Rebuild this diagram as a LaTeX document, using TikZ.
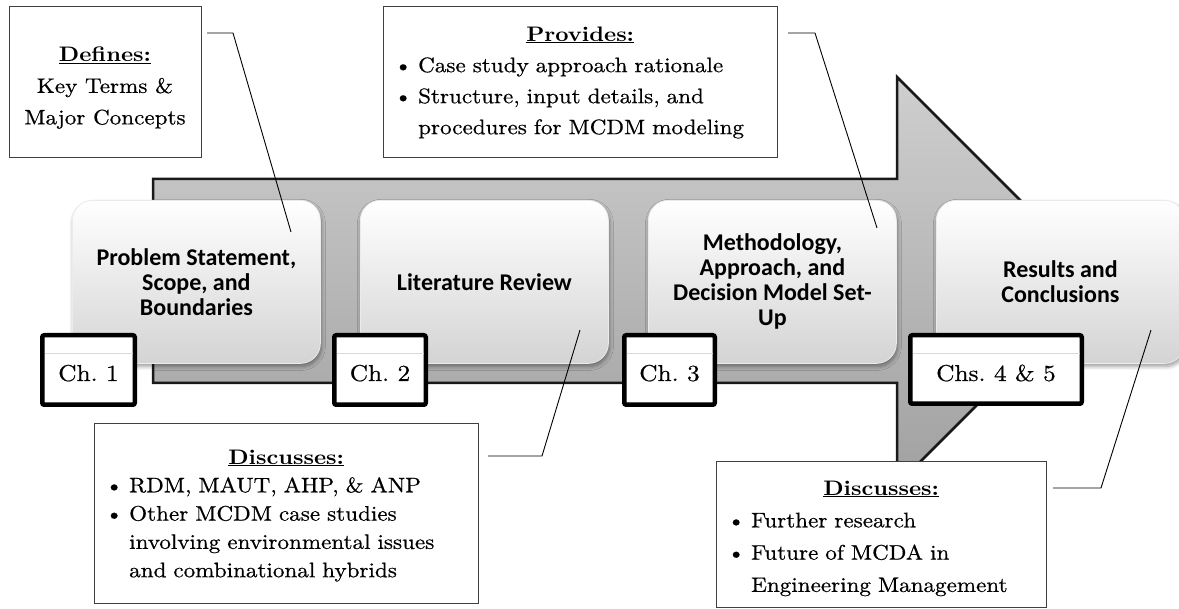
\documentclass[tikz,border=0pt]{standalone}
\usepackage{fontspec}
\setmainfont{lmroman10-regular.otf}[
  BoldFont=lmroman10-bold.otf,
  FakeStretch=1.1,
  UprightFeatures={FakeBold=0.6}]
\newfontfamily\stagefont{Carlito}
\usetikzlibrary{shadows.blur}
\frenchspacing
% bullet and hanging indent used inside the note boxes
\newcommand\notebullet{\makebox[35pt][l]{\hspace{11pt}\textbullet}}
\newcommand\noteindent{\hspace*{35pt}}
\newcommand\notehead[1]{\makebox[\hsize][c]{\underline{\textbf{#1}}}}
\begin{document}
\begin{tikzpicture}[x=1pt,y=-1pt,
  flow/.style={draw=black!90, line width=2.5pt, line join=miter,
    top color=black!19, bottom color=black!37},
  stage/.style={rounded corners=20pt, top color=white, bottom color=black!17,
    draw=black!8, line width=0.8pt, minimum width=248pt, minimum height=163pt,
    anchor=north west, inner sep=0pt, align=center,
    font=\stagefont\bfseries\fontsize{24}{25}\selectfont,
    blur shadow={shadow xshift=1pt, shadow yshift=-3pt, shadow blur radius=4pt,
      shadow blur steps=6, shadow opacity=40}},
  chapbox/.style={draw=black, line width=4.5pt, fill=white, rounded corners=2pt,
    inner sep=0pt},
  chaprule/.style={draw=black!15, line width=0.8pt},
  chaptext/.style={anchor=base, inner sep=0pt, font=\fontsize{23}{30}\selectfont},
  notebox/.style={draw=black!75, line width=1.2pt, fill=white, anchor=north west,
    inner sep=0pt},
  notetext/.style={anchor=north west, inner sep=0pt, align=left,
    font=\fontsize{21}{#1}\selectfont},
  leader/.style={draw=black, line width=0.9pt},
]
\useasboundingbox (0,0) rectangle (1179,609);

% the process arrow behind the stages
\draw[flow] (153,179) -- (897,179) -- (897,77) -- (1101,281) -- (897,485)
  -- (897,383) -- (153,383) -- cycle;

% chapter stages
\node[stage] (s1) at (72,200) {Problem Statement,\\Scope, and\\Boundaries};
\node[stage] (s2) at (360,200) {Literature Review};
\node[stage] (s3) at (648,200) {Methodology,\\Approach, and\\Decision Model Set-\\Up};
\node[stage] (s4) at (936,200) {Results and\\Conclusions};

% leader lines from the notes into the stages
\coordinate (k1s) at (207,33);  \coordinate (k1b) at (233,33);  \coordinate (k1e) at (291,232);
\coordinate (k2s) at (788,33);  \coordinate (k2b) at (815,33);  \coordinate (k2e) at (877,228);
\coordinate (k3s) at (488,456); \coordinate (k3b) at (542,456); \coordinate (k3e) at (580,330);
\coordinate (k4s) at (1053,488);\coordinate (k4b) at (1101,488);\coordinate (k4e) at (1151,330);
\draw[leader] (k1s) -- (k1b) -- (k1e);
\draw[leader] (k2s) -- (k2b) -- (k2e);
\draw[leader] (k3s) -- (k3b) -- (k3e);
\draw[leader] (k4s) -- (k4b) -- (k4e);

% chapter tags
\node[chapbox, minimum width=92.5pt, minimum height=69.5pt] (c1) at (88.5,370) {};
\node[chapbox, minimum width=91.5pt, minimum height=69.5pt] (c2) at (380,370) {};
\node[chapbox, minimum width=90.5pt, minimum height=69.5pt] (c3) at (669.5,370) {};
\node[chapbox, minimum width=171.5pt, minimum height=68.5pt] (c4) at (996,369.5) {};
\foreach \c in {c1,c2,c3,c4}{
  \draw[chaprule] ([xshift=4.5pt,yshift=-20pt]\c.north west) -- ([xshift=-4.5pt,yshift=-20pt]\c.north east);
}
\node[chaptext] (t1) at (88.5,381) {Ch. 1};
\node[chaptext] (t2) at (380,381) {Ch. 2};
\node[chaptext] (t3) at (669.5,381) {Ch. 3};
\node[chaptext] (t4) at (996,381) {Chs. 4 \& 5};

% notes
\node[notebox, minimum width=192pt, minimum height=151pt] (defbox) at (9,6) {};
\node[anchor=north, inner sep=0pt, align=center, font=\fontsize{21}{31.5}\selectfont]
  (deftxt) at (105,46.5) {\underline{\textbf{Defines:}}\\Key Terms \&\\Major Concepts};

\node[notebox, minimum width=394pt, minimum height=151pt] (provbox) at (383,6) {};
\node[notetext=31, text width=394pt] (provtxt) at (383,26.4)
  {\notehead{Provides:}\\
   \notebullet Case study approach rationale\\
   \notebullet Structure, input details, and\\
   \noteindent procedures for MCDM modeling};

\node[notebox, minimum width=384pt, minimum height=180pt] (litbox) at (94,423) {};
\node[notetext=28.3, text width=384pt] (littxt) at (94,449.4)
  {\notehead{Discusses:}\\
   \notebullet RDM, MAUT, AHP, \& ANP\\
   \notebullet Other MCDM case studies\\
   \noteindent involving environmental issues\\
   \noteindent and combinational hybrids};

\node[notebox, minimum width=330pt, minimum height=146pt] (resbox) at (716,461) {};
\node[notetext=32.3, text width=330pt] (restxt) at (716,480.4)
  {\notehead{Discusses:}\\
   \notebullet Further research\\
   \notebullet Future of MCDA in\\
   \noteindent Engineering Management};
\end{tikzpicture}
\end{document}
